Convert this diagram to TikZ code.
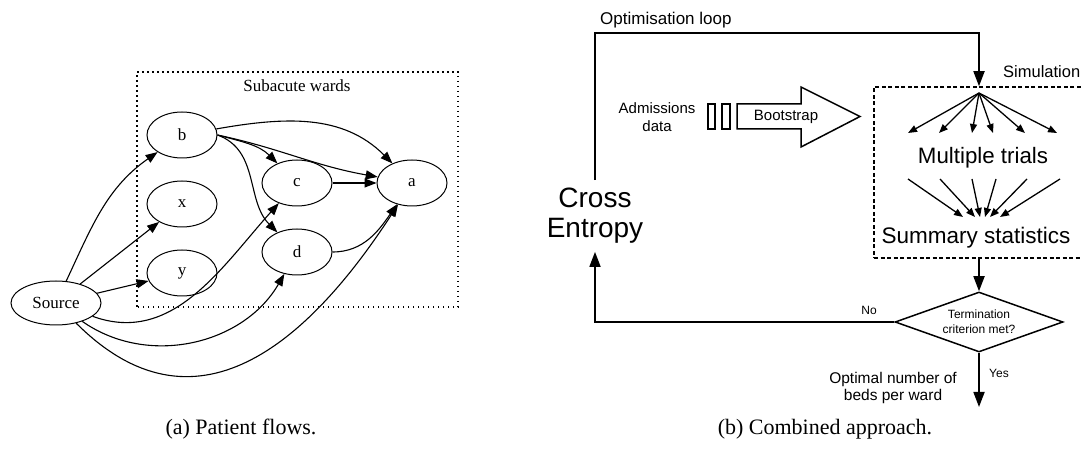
\documentclass[tikz,border=0pt]{standalone}
\usepackage{fontspec}
\setmainfont{Liberation Serif}
\setsansfont{Liberation Sans}
\usetikzlibrary{arrows.meta,shapes.geometric}

\begin{document}
\begin{tikzpicture}[x=1pt,y=1pt,
  ward/.style={draw,ellipse,line width=1pt,minimum width=70,minimum height=46,inner sep=0,font=\fontsize{17}{20}\selectfont},
  flow/.style={-{Triangle[length=12pt,width=9pt]},line width=1.1pt},
  thick arrow/.style={-{Triangle[length=15pt,width=11pt]},line width=1.7pt},
  fan arrow/.style={-{Triangle[length=9pt,width=7pt]},line width=1.3pt},
  sans/.style={font=\sffamily\fontsize{#1}{#1}\selectfont,inner sep=0}]
  \useasboundingbox (0,0) rectangle (1081,452);

  % (a) patient flows
  \draw[line width=1.2pt,dash pattern=on 1.5pt off 3.5pt] (137,145) rectangle (458,380);
  \node[font=\fontsize{17}{20}\selectfont] (wards) at (297,366) {Subacute wards};
  \node[ward,minimum width=90,minimum height=44] (src) at (56,149) {Source};
  \node[ward] (b) at (182,317) {b};
  \node[ward] (x) at (182,248) {x};
  \node[ward] (y) at (182,179) {y};
  \node[ward] (c) at (297,269) {c};
  \node[ward] (d) at (297,200) {d};
  \node[ward] (a) at (412,269) {a};

  \draw[flow] (src) to[out=65,in=215] (b);
  \draw[flow] (src) -- (x);
  \draw[flow] (src) -- (y);
  \draw[flow] (src) to[out=-20,in=228] (c);
  \draw[flow] (src) to[out=-35,in=240] (d);
  \draw[flow] (src) to[out=-45,in=237,looseness=1.25] (a);
  \draw[flow] (b) to[out=10,in=135] (a);
  \draw[flow] (b.east) to[out=-12,in=170] (a.170);
  \draw[flow] (b.east) to[out=-15,in=135] (c);
  \draw[flow] (b.east) to[out=-20,in=135] (d);
  \draw[flow] (c) -- (a);
  \draw[flow] (d) to[out=0,in=235] (a);

  \node[font=\fontsize{22}{24}\selectfont] (capa) at (241,23) {(a) Patient flows.};

  % (b) combined approach
  \node[sans=17,anchor=west] (optloop) at (600,432) {Optimisation loop};
  \node[sans=16.5,anchor=west] (simlbl) at (1003,380) {Simulation};
  \node[draw,line width=1.5pt,dash pattern=on 4pt off 2.5pt,minimum width=216,minimum height=171] (sim) at (982,279.5) {};
  \node[sans=28,align=center,inner ysep=8pt,font=\sffamily\fontsize{28}{30}\selectfont] (ce) at (595,236) {Cross\\Entropy};
  \node[sans=15,align=center,font=\sffamily\fontsize{15}{18}\selectfont] (adm) at (657,335) {Admissions\\data};
  \draw[line width=1.3pt] (708,323) rectangle (715,348);
  \draw[line width=1.3pt] (722,323) rectangle (730,348);
  \draw[line width=1.5pt,line join=miter] (737,348) -- (801,348) -- (801,365) -- (860,335.5)
    -- (801,305) -- (801,323) -- (737,323) -- cycle;
  \node[sans=15] (boot) at (786,335.5) {Bootstrap};

  \node[sans=22.3] (trials) at (983,294) {Multiple trials};
  \node[sans=22.5] (stats) at (976,214) {Summary statistics};
  \node[draw,diamond,aspect=2.8,line width=1.5pt,minimum width=168,minimum height=60,inner sep=0,
    align=center,font=\sffamily\fontsize{12}{15}\selectfont] (dia) at (979,130) {Termination\\criterion met?};
  \node[sans=12] (no) at (869,142) {No};
  \node[sans=12] (yes) at (999,79) {Yes};
  \node[sans=15.5,anchor=east,align=center,font=\sffamily\fontsize{15.5}{17}\selectfont] (beds) at (957,64) {Optimal number of\\beds per ward};

  \coordinate (lt) at (979,419);
  \coordinate (fan) at (979,359);
  \coordinate (res) at (979,45);
  \draw[thick arrow] (ce.north) |- (lt) -- (lt |- sim.north);
  \draw[thick arrow] (dia.west) -| (ce.south);
  \draw[thick arrow] (sim.south -| dia.north) -- (dia.north);
  \draw[thick arrow] (dia.south) -- (res);

  \foreach \tx [count=\i] in {908,939,972,993,1025,1057} {
    \coordinate (t\i) at (\tx,319);
    \draw[fan arrow] (fan) -- (t\i);
  }
  \foreach \sx/\ex [count=\i] in {908/963,940/975,972/980,996/985,1027/990,1060/1000} {
    \coordinate (s\i) at (\sx,273);
    \coordinate (e\i) at (\ex,235);
    \draw[fan arrow] (s\i) -- (e\i);
  }

  \node[font=\fontsize{22}{24}\selectfont] (capb) at (825,23) {(b) Combined approach.};
\end{tikzpicture}
\end{document}
